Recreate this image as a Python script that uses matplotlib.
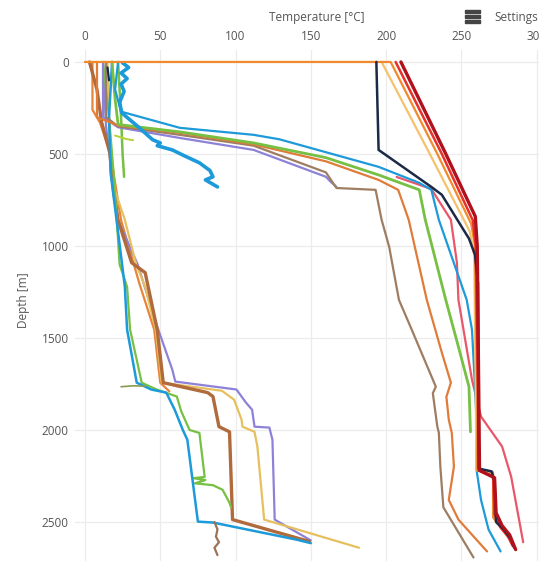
import matplotlib
matplotlib.use("Agg")
import matplotlib.pyplot as plt
from matplotlib.patches import Rectangle

plt.rcParams['font.family'] = ['Open Sans', 'DejaVu Sans']

# ---- temperature logs: temperature [°C] and depth [m] per log ----
# shallow / cold wells
cold_brown_t = [3, 8, 11, 16.5, 19, 22, 31, 40, 44, 48, 52, 81.5, 85, 89, 96, 98, 149]
cold_brown_d = [0, 150, 325, 494, 700, 860, 1091, 1145, 1300, 1455, 1743, 1797, 1818, 1982, 2010, 2487, 2606]

cold_blue_t = [18, 16, 17, 21, 26.5, 28, 34.4, 44, 54, 59.6, 65, 68, 75, 85, 140, 150]
cold_blue_d = [0, 300, 600, 858, 1222, 1455, 1743, 1780, 1797, 1890, 2000, 2053, 2498, 2503, 2595, 2615]

cold_green_t = [12, 16, 19, 22, 23, 28, 30, 37.7, 47.6, 61, 64, 69.5, 76, 79.5, 72, 80, 73, 85, 91.4, 96, 97]
cold_green_d = [0, 300, 600, 967, 1100, 1222, 1455, 1743, 1780, 1818, 1900, 2000, 2016, 2255, 2262, 2272, 2290, 2300, 2325, 2396, 2420]

cold_gold_t = [15, 16, 17, 20, 26.5, 34, 40, 47, 51, 91, 99, 104, 104.6, 112.6, 114.5, 119, 182]
cold_gold_d = [0, 300, 505, 700, 858, 1100, 1222, 1455, 1743, 1787, 1835, 1944, 1982, 2010, 2090, 2487, 2640]

cold_purple_t = [12, 14, 22, 35, 48, 58, 60, 100.6, 107, 111, 112.6, 122.5, 124.5, 126, 150]
cold_purple_d = [0, 350, 860, 1100, 1438, 1672, 1737, 1780, 1852, 1890, 1982, 1987, 2053, 2487, 2600]

cold_orange_t = [5, 5, 10, 17, 24, 36, 46, 50, 56]
cold_orange_d = [0, 260, 330, 500, 860, 1200, 1455, 1743, 1790]

short_green_t = [22, 23, 24, 25, 26]
short_green_d = [0, 150, 300, 500, 624]

tail_green_t = [20, 28, 32]
tail_green_d = [400, 420, 425]

tail_olive_t = [24, 32, 40]
tail_olive_d = [1765, 1760, 1762]

deep_brown_t = [86, 88, 87, 89, 86, 88]
deep_brown_d = [2500, 2540, 2580, 2610, 2640, 2680]

# logs that heat up below ~350 m
wiggle_blue_t = [25, 29, 24, 28, 24, 26, 23, 24.5, 35, 45, 50, 48, 58, 66, 76, 83, 85, 80, 84, 88]
wiggle_blue_d = [5, 30, 60, 90, 120, 160, 220, 277, 350, 423, 440, 455, 478, 510, 548, 590, 624, 641, 660, 679]

mid_purple_t = [12, 12, 22, 63, 112, 160, 163, 167]
mid_purple_d = [0, 300, 355, 413, 478, 624, 650, 679]

mid_brown_t = [14, 14, 22, 63, 112, 160, 167, 193, 197, 202, 208.5, 217, 233, 231, 234, 235, 236, 238, 258]
mid_brown_d = [0, 300, 350, 396, 455, 600, 685, 695, 858, 1004, 1293, 1455, 1765, 1800, 1982, 2015, 2200, 2420, 2693]

mid_orange_t = [8, 8, 22, 63, 112, 160, 195, 208, 215, 227, 237, 243, 240, 241.6, 243.6, 245, 241.6, 248, 267]
mid_orange_d = [0, 300, 345, 385, 448, 540, 641, 695, 858, 1293, 1580, 1743, 1820, 1944, 2016, 2200, 2380, 2487, 2660]

mid_green_t = [18, 20, 22, 63, 112, 160, 195, 222, 226, 239.6, 248, 255, 256]
mid_green_d = [0, 200, 340, 380, 440, 520, 614, 695, 858, 1293, 1548, 1765, 2010]

mid_blue_t = [22, 20, 24, 63, 112, 129, 195, 222, 230, 235, 253.5, 257, 259, 260, 260, 263, 268, 276]
mid_blue_d = [0, 150, 270, 358, 396, 420, 570, 657, 695, 858, 1293, 1455, 1765, 1944, 2215, 2380, 2541, 2660]

mid_pink_t = [207, 230, 243, 247, 248, 257, 263, 277, 283, 291]
mid_pink_d = [625, 690, 858, 1091, 1293, 1727, 1927, 2090, 2253, 2610]

# hot wells
hot_yellow_t = [197, 229, 255.5, 258.5, 259.5, 260]
hot_yellow_d = [0, 500, 920, 1050, 1800, 2220]

hot_orange_t = [0, 203, 234, 256.5, 259, 260.5, 260.5, 271, 271, 275, 281, 284]
hot_orange_d = [0, 0, 500, 880, 1000, 1800, 2215, 2230, 2475, 2520, 2580, 2620]

hot_red_t = [206.3, 237, 257.5, 259.5, 261, 261.5, 271, 272, 276, 281, 284]
hot_red_d = [0, 500, 860, 1000, 1800, 2220, 2250, 2460, 2530, 2580, 2630]

navy_t = [193.5, 195, 230, 237, 255, 259, 261, 261.5, 270, 272, 273, 278, 283, 285]
navy_d = [0, 478, 679, 722, 960, 1048, 1200, 2210, 2225, 2280, 2500, 2540, 2595, 2640]

navy_top_t = [15, 16]
navy_top_d = [30, 100]

hot_darkred_t = [209.8, 239.4, 259.2, 260.5, 261.5, 262, 272, 273, 277, 282, 286]
hot_darkred_d = [0, 496, 840, 1000, 1800, 2220, 2260, 2450, 2520, 2570, 2650]

x_ticks = [0, 50, 100, 150, 200, 250, 300]
y_ticks = [0, 500, 1000, 1500, 2000, 2500]

# drawing order, colour and width of each log
logs = [
    (cold_orange_t, cold_orange_d, "#e8833a", 1.6),
    (cold_purple_t, cold_purple_d, "#8d82d8", 1.6),
    (cold_gold_t, cold_gold_d, "#e6c05e", 1.6),
    (cold_brown_t, cold_brown_d, "#b06a3b", 2.4),
    (cold_green_t, cold_green_d, "#76c043", 1.6),
    (cold_blue_t, cold_blue_d, "#1d9ad9", 1.8),
    (short_green_t, short_green_d, "#76c043", 1.8),
    (tail_green_t, tail_green_d, "#b5d334", 1.4),
    (tail_olive_t, tail_olive_d, "#8b9a50", 1.2),
    (deep_brown_t, deep_brown_d, "#9c7356", 1.6),
    (mid_purple_t, mid_purple_d, "#8d82d8", 1.6),
    (mid_brown_t, mid_brown_d, "#9e7d62", 1.6),
    (mid_orange_t, mid_orange_d, "#e07b39", 1.6),
    (mid_green_t, mid_green_d, "#76c043", 2.0),
    (mid_pink_t, mid_pink_d, "#e8576a", 1.6),
    (mid_blue_t, mid_blue_d, "#1d9ad9", 1.6),
    (wiggle_blue_t, wiggle_blue_d, "#1d9ad9", 2.6),
    (hot_yellow_t, hot_yellow_d, "#f5c26b", 1.6),
    (hot_orange_t, hot_orange_d, "#f08a2c", 1.6),
    (hot_red_t, hot_red_d, "#e8302a", 1.8),
    (navy_t, navy_d, "#1c2a48", 1.8),
    (navy_top_t, navy_top_d, "#1c2a48", 1.6),
    (hot_darkred_t, hot_darkred_d, "#b0111b", 2.4),
]

W, H = 539, 561
fig = plt.figure(figsize=(W / 100, H / 100), dpi=100)
fig.patch.set_facecolor("white")

ax_left, ax_top = 75, 50
ax = fig.add_axes([ax_left / W, 0, (W - ax_left) / W, (H - ax_top) / H])

for t, d, c, lw in logs:
    ax.plot(t, d, color=c, lw=lw, solid_joinstyle="round", solid_capstyle="round")

ax.set_xlim(-6.6, 301.5)
ax.set_ylim(2712, -65)

ax.xaxis.tick_top()
ax.set_xticks(x_ticks)
ax.set_yticks(y_ticks)
ax.set_xticklabels([str(v) for v in x_ticks])
ax.set_yticklabels([str(v) for v in y_ticks])
ax.tick_params(axis="both", length=0, labelsize=8.5, labelcolor="#555555")
ax.tick_params(axis="x", pad=5)
ax.tick_params(axis="y", pad=4.5)
ax.grid(True, color="#ececec", lw=0.9)
ax.set_axisbelow(True)
for s in ax.spines.values():
    s.set_visible(False)

fig.text(317 / W, 1 - 17 / H, "Temperature [°C]", ha="center", va="center",
         fontsize=8.5, color="#555555")
fig.text(23 / W, 1 - 300 / H, "Depth [m]", ha="center", va="center",
         rotation=90, fontsize=8.5, color="#555555")

# settings menu: hamburger icon and label
for yy in (11.5, 16.5, 21.5):
    fig.patches.append(Rectangle((465 / W, 1 - (yy + 1.3) / H), 15 / W, 2.6 / H,
                                 transform=fig.transFigure, color="#444444"))
fig.text(494 / W, 1 - 17 / H, "Settings", ha="left", va="center",
         fontsize=8.5, color="#555555")

fig.savefig("out.png", dpi=100, facecolor="white")
